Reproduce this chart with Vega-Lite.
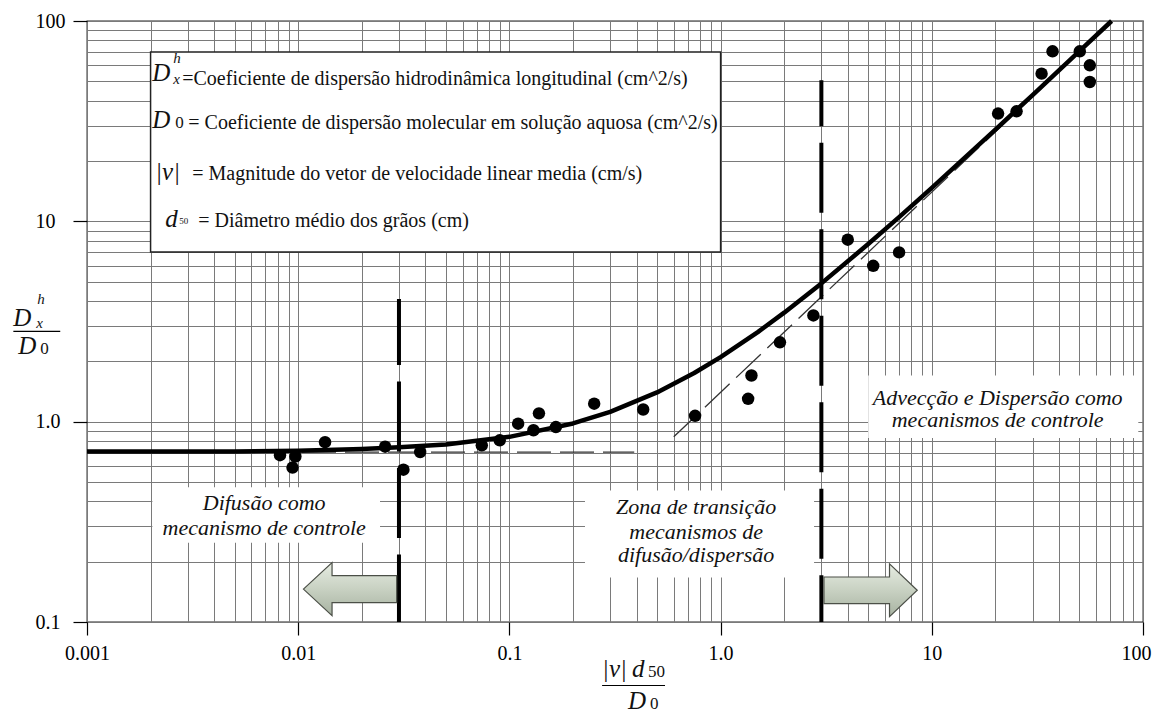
{
  "$schema": "https://vega.github.io/schema/vega-lite/v6.json",
  "width": 1056,
  "height": 601,
  "autosize": {"type": "none"},
  "padding": {"left": 87, "top": 21, "right": 12, "bottom": 91},
  "background": "white",
  "config": {"view": {"stroke": "#222", "strokeWidth": 1.3}},
  "datasets": {
    "points": [
      {"x": 0.0082, "y": 0.68}, {"x": 0.0097, "y": 0.67}, {"x": 0.0094, "y": 0.59},
      {"x": 0.0134, "y": 0.79}, {"x": 0.0258, "y": 0.75}, {"x": 0.0315, "y": 0.576},
      {"x": 0.0378, "y": 0.705}, {"x": 0.074, "y": 0.762}, {"x": 0.09, "y": 0.807},
      {"x": 0.11, "y": 0.977}, {"x": 0.13, "y": 0.906}, {"x": 0.138, "y": 1.1},
      {"x": 0.166, "y": 0.94}, {"x": 0.252, "y": 1.23}, {"x": 0.43, "y": 1.15},
      {"x": 0.757, "y": 1.07}, {"x": 1.35, "y": 1.3}, {"x": 1.4, "y": 1.7},
      {"x": 1.91, "y": 2.49}, {"x": 2.75, "y": 3.39}, {"x": 4.0, "y": 8.1},
      {"x": 5.28, "y": 6.0}, {"x": 7.0, "y": 7.0}, {"x": 20.6, "y": 34.5},
      {"x": 25.2, "y": 35.4}, {"x": 33.1, "y": 54.6}, {"x": 37.3, "y": 70.6},
      {"x": 50.2, "y": 70.6}, {"x": 56, "y": 60.1}, {"x": 56, "y": 49.6}
    ],
    "curve": [
      {"x": 0.001, "y": 0.71}, {"x": 0.005, "y": 0.71}, {"x": 0.01, "y": 0.715},
      {"x": 0.02, "y": 0.73}, {"x": 0.03, "y": 0.745}, {"x": 0.05, "y": 0.77},
      {"x": 0.1, "y": 0.84}, {"x": 0.2, "y": 0.98}, {"x": 0.3, "y": 1.12},
      {"x": 0.5, "y": 1.4}, {"x": 0.75, "y": 1.75}, {"x": 1.0, "y": 2.1},
      {"x": 1.5, "y": 2.8}, {"x": 2, "y": 3.5}, {"x": 3, "y": 4.9},
      {"x": 5, "y": 7.7}, {"x": 7, "y": 10.5}, {"x": 10, "y": 14.7},
      {"x": 20, "y": 28.7}, {"x": 30, "y": 42.7}, {"x": 50, "y": 70.7},
      {"x": 71, "y": 100}
    ],
    "asymh": [{"x": 0.001, "y": 0.705}, {"x": 0.39, "y": 0.705}],
    "asymd": [{"x": 0.6, "y": 0.84}, {"x": 71, "y": 99.4}],
    "vline1": [{"x": 0.03, "y": 4.1, "y2": 0.1}],
    "vline2": [{"x": 3, "y": 50.6, "y2": 0.1}],
    "boxes": [
      {"x": 0.00204, "x2": 0.0244, "y": 0.47, "y2": 0.249},
      {"x": 0.228, "x2": 2.77, "y": 0.453, "y2": 0.167},
      {"x": 5.0, "x2": 95, "y": 1.7, "y2": 0.83}
    ],
    "legendbox": [{"x": 0.002, "x2": 1.0, "y": 70, "y2": 7.03}],
    "arrows": [
      {"x": 0.0176, "y": 0.146, "dir": "left"},
      {"x": 5.13, "y": 0.144, "dir": "right"}
    ],
    "bars": [
      {"x": 0.000448, "x2": 0.000747, "y": 2.82},
      {"x": 0.2747, "x2": 0.5455, "y": 0.0482}
    ],
    "labels": [
      {"group": "ann", "text": "Difusão como", "x": 0.0069, "y": 0.391},
      {"group": "ann", "text": "mecanismo de controle", "x": 0.0069, "y": 0.293},
      {"group": "ann", "text": "Zona de transição", "x": 0.766, "y": 0.373},
      {"group": "ann", "text": "mecanismos de", "x": 0.766, "y": 0.28},
      {"group": "ann", "text": "difusão/dispersão", "x": 0.766, "y": 0.215},
      {"group": "ann", "text": "Advecção e Dispersão como", "x": 20.5, "y": 1.32},
      {"group": "ann", "text": "mecanismos de controle", "x": 20.5, "y": 1.014},
      {"group": "legend", "text": "=Coeficiente de dispersão hidrodinâmica longitudinal (cm^2/s)", "x": 0.002825, "y": 47.7},
      {"group": "legend", "text": "= Coeficiente de dispersão molecular em solução aquosa (cm^2/s)", "x": 0.003016, "y": 28.8},
      {"group": "legend", "text": "= Magnitude do vetor de velocidade linear media (cm/s)", "x": 0.00315, "y": 16.0},
      {"group": "legend", "text": "= Diâmetro médio dos grãos (cm)", "x": 0.003363, "y": 9.33},
      {"group": "math", "text": "D", "x": 0.002037, "y": 50.0},
      {"group": "sup", "text": "h", "x": 0.002561, "y": 61.5},
      {"group": "sup", "text": "x", "x": 0.002561, "y": 48.3},
      {"group": "math", "text": "D", "x": 0.002037, "y": 29.1},
      {"group": "digit", "text": "0", "x": 0.002617, "y": 29.1},
      {"group": "math", "text": "|v|", "x": 0.002104, "y": 16.0},
      {"group": "math", "text": "d", "x": 0.002348, "y": 9.33},
      {"group": "tiny", "text": "50", "x": 0.002734, "y": 9.66},
      {"group": "math", "text": "D", "x": 0.000448, "y": 2.99},
      {"group": "sup", "text": "h", "x": 0.000582, "y": 3.85},
      {"group": "sup", "text": "x", "x": 0.000575, "y": 2.92},
      {"group": "math", "text": "D", "x": 0.000473, "y": 2.17},
      {"group": "digit", "text": "0", "x": 0.000601, "y": 2.17},
      {"group": "math", "text": "|v|", "x": 0.2747, "y": 0.0529},
      {"group": "math", "text": "d", "x": 0.3808, "y": 0.0529},
      {"group": "digit", "text": "50", "x": 0.4533, "y": 0.0529},
      {"group": "math", "text": "D", "x": 0.3646, "y": 0.037},
      {"group": "digit", "text": "0", "x": 0.4634, "y": 0.037}
    ]
  },
  "encoding": {
    "x": {
      "field": "x", "type": "quantitative",
      "scale": {"type": "log", "domain": [0.001, 100], "nice": false},
      "axis": {
        "values": [0.001,0.002,0.003,0.004,0.005,0.006,0.007,0.008,0.009,0.01,0.02,0.03,0.04,0.05,0.06,0.07,0.08,0.09,0.1,0.2,0.3,0.4,0.5,0.6,0.7,0.8,0.9,1,2,3,4,5,6,7,8,9,10,20,30,40,50,60,70,80,90,100],
        "grid": true, "gridColor": "#7a7a7a", "gridWidth": 1, "domain": false,
        "ticks": true, "tickSize": 13, "tickColor": "#000", "tickWidth": 1.2,
        "tickOpacity": {"condition": {"test": "abs(log(datum.value)/LN10 - round(log(datum.value)/LN10)) < 1e-6", "value": 1}, "value": 0},
        "labelExpr": "abs(log(datum.value)/LN10 - round(log(datum.value)/LN10)) < 1e-6 ? (datum.value == 1 ? '1.0' : format(datum.value, '~g')) : ''",
        "labelFont": "Liberation Serif", "labelFontSize": 20, "labelColor": "#000",
        "labelOffset": {"condition": {"test": "datum.value == 100", "value": -7}, "value": 0},
        "labelPadding": 8, "labelOverlap": false, "labelFlush": false, "labelBound": false,
        "title": null
      }
    },
    "y": {
      "field": "y", "type": "quantitative",
      "scale": {"type": "log", "domain": [0.1, 100], "nice": false},
      "axis": {
        "values": [0.1,0.2,0.3,0.4,0.5,0.6,0.7,0.8,0.9,1,2,3,4,5,6,7,8,9,10,20,30,40,50,60,70,80,90,100],
        "grid": true, "gridColor": "#7a7a7a", "gridWidth": 1, "domain": false,
        "ticks": true, "tickSize": 14, "tickColor": "#000", "tickWidth": 1.2,
        "tickOpacity": {"condition": {"test": "abs(log(datum.value)/LN10 - round(log(datum.value)/LN10)) < 1e-6", "value": 1}, "value": 0},
        "labelExpr": "abs(log(datum.value)/LN10 - round(log(datum.value)/LN10)) < 1e-6 ? (datum.value == 1 ? '1.0' : format(datum.value, '~g')) : ''",
        "labelFont": "Liberation Serif", "labelFontSize": 20, "labelColor": "#000",
        "labelAlign": "left", "labelBaseline": "middle",
        "labelPadding": 38, "labelOverlap": false, "labelFlush": false, "labelBound": false,
        "title": null
      }
    }
  },
  "layer": [
    {
      "data": {"name": "boxes"},
      "mark": {"type": "rect", "fill": "white", "strokeWidth": 0},
      "encoding": {"x2": {"field": "x2"}, "y2": {"field": "y2"}}
    },
    {
      "data": {"name": "legendbox"},
      "mark": {"type": "rect", "fill": "white", "stroke": "#222", "strokeWidth": 1.5},
      "encoding": {"x2": {"field": "x2"}, "y2": {"field": "y2"}}
    },
    {
      "data": {"name": "asymh"},
      "mark": {"type": "line", "color": "#333", "strokeWidth": 1.3, "strokeDash": [34, 9]},
      "encoding": {}
    },
    {
      "data": {"name": "asymd"},
      "mark": {"type": "line", "color": "#333", "strokeWidth": 1.3, "strokeDash": [34, 9]},
      "encoding": {}
    },
    {
      "data": {"name": "curve"},
      "mark": {"type": "line", "color": "#000", "strokeWidth": 4.5, "strokeJoin": "round"},
      "encoding": {}
    },
    {
      "data": {"name": "points"},
      "mark": {"type": "circle", "color": "#000", "size": 155, "opacity": 1}
    },
    {
      "data": {"name": "vline1"},
      "mark": {"type": "rule", "color": "#000", "strokeWidth": 4, "strokeDash": [70, 16.5], "strokeDashOffset": 4},
      "encoding": {"y2": {"field": "y2"}}
    },
    {
      "data": {"name": "vline2"},
      "mark": {"type": "rule", "color": "#000", "strokeWidth": 4, "strokeDash": [70, 16.5], "strokeDashOffset": 24},
      "encoding": {"y2": {"field": "y2"}}
    },
    {
      "data": {"name": "arrows"},
      "transform": [{"filter": "datum.dir == 'left'"}],
      "mark": {
        "type": "point",
        "shape": "M-1,0L-0.386,-0.569L-0.386,-0.29L1,-0.29L1,0.29L-0.386,0.29L-0.386,0.569Z",
        "size": 8700, "filled": true, "opacity": 1,
        "fill": {"gradient": "linear", "x1": 0, "y1": 0, "x2": 0, "y2": 1, "stops": [{"offset": 0, "color": "#e6ece2"}, {"offset": 0.5, "color": "#c8d1c2"}, {"offset": 1, "color": "#a7b2a1"}]},
        "stroke": "#4b4f47", "strokeWidth": 1.2
      }
    },
    {
      "data": {"name": "arrows"},
      "transform": [{"filter": "datum.dir == 'right'"}],
      "mark": {
        "type": "point",
        "shape": "M1,0L0.406,-0.565L0.406,-0.285L-1,-0.285L-1,0.285L0.406,0.285L0.406,0.565Z",
        "size": 8700, "filled": true, "opacity": 1,
        "fill": {"gradient": "linear", "x1": 0, "y1": 0, "x2": 0, "y2": 1, "stops": [{"offset": 0, "color": "#e6ece2"}, {"offset": 0.5, "color": "#c8d1c2"}, {"offset": 1, "color": "#a7b2a1"}]},
        "stroke": "#4b4f47", "strokeWidth": 1.2
      }
    },
    {
      "data": {"name": "bars"},
      "mark": {"type": "rule", "color": "#000", "strokeWidth": 1.2},
      "encoding": {"x2": {"field": "x2"}}
    },
    {
      "data": {"name": "labels"},
      "transform": [{"filter": "datum.group == 'ann'"}],
      "mark": {"type": "text", "font": "Liberation Serif", "fontStyle": "italic", "fontSize": 22, "align": "center", "baseline": "middle", "color": "#111"},
      "encoding": {"text": {"field": "text"}}
    },
    {
      "data": {"name": "labels"},
      "transform": [{"filter": "datum.group == 'legend'"}],
      "mark": {"type": "text", "font": "Liberation Serif", "fontSize": 20, "align": "left", "baseline": "alphabetic", "color": "#111"},
      "encoding": {"text": {"field": "text"}}
    },
    {
      "data": {"name": "labels"},
      "transform": [{"filter": "datum.group == 'math'"}],
      "mark": {"type": "text", "font": "Liberation Serif", "fontStyle": "italic", "fontSize": 25, "align": "left", "baseline": "alphabetic", "color": "#111"},
      "encoding": {"text": {"field": "text"}}
    },
    {
      "data": {"name": "labels"},
      "transform": [{"filter": "datum.group == 'sup'"}],
      "mark": {"type": "text", "font": "Liberation Serif", "fontStyle": "italic", "fontSize": 15, "align": "left", "baseline": "alphabetic", "color": "#111"},
      "encoding": {"text": {"field": "text"}}
    },
    {
      "data": {"name": "labels"},
      "transform": [{"filter": "datum.group == 'digit'"}],
      "mark": {"type": "text", "font": "Liberation Serif", "fontSize": 17, "align": "left", "baseline": "alphabetic", "color": "#111"},
      "encoding": {"text": {"field": "text"}}
    },
    {
      "data": {"name": "labels"},
      "transform": [{"filter": "datum.group == 'tiny'"}],
      "mark": {"type": "text", "font": "Liberation Serif", "fontSize": 9, "align": "left", "baseline": "alphabetic", "color": "#111"},
      "encoding": {"text": {"field": "text"}}
    }
  ]
}
